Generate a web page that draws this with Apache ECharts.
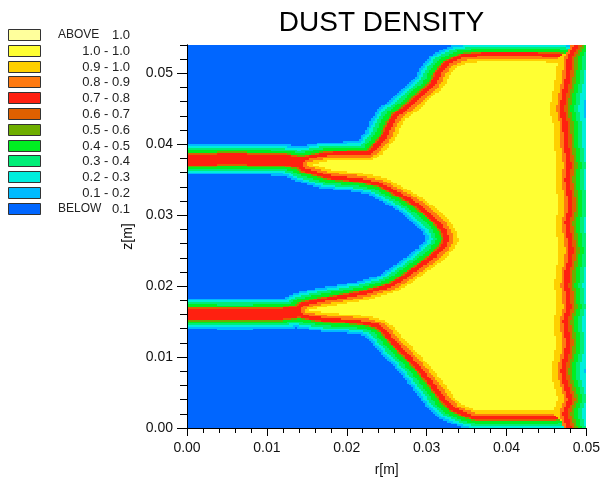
<!DOCTYPE html>
<html><head><meta charset="utf-8">
<script src="https://cdn.jsdelivr.net/npm/echarts@6/dist/echarts.min.js"></script>
<style>html,body{margin:0;padding:0;background:#fff}#c{width:603px;height:482px}</style>
</head><body><div id="c"></div>
<script>
// ---------------- data ----------------
const titleText = 'DUST DENSITY';
const xAxisName = 'r[m]';
const yAxisName = 'z[m]';
const xTicks = [0, 0.01, 0.02, 0.03, 0.04, 0.05];
const yTicks = [0, 0.01, 0.02, 0.03, 0.04, 0.05];
const rMax = 0.05;
const zMax = 0.054;
const minorStep = 0.002;

const legendWords   = ['ABOVE', '', '', '', '', '', '', '', '', '', '', 'BELOW'];
const legendNumbers = ['1.0', '1.0 - 1.0', '0.9 - 1.0', '0.8 - 0.9', '0.7 - 0.8', '0.6 - 0.7',
                       '0.5 - 0.6', '0.4 - 0.5', '0.3 - 0.4', '0.2 - 0.3', '0.1 - 0.2', '0.1'];
const legendColors  = ['#FFFF9C', '#FFFF33', '#FFD000', '#FF7A10', '#FF2010', '#E06000',
                       '#6EAE00', '#00EE22', '#00EE77', '#00EEDD', '#00BBFF', '#0066FF'];
const bandLower     = [1.0, 1.0, 0.9, 0.8, 0.7, 0.6, 0.5, 0.4, 0.3, 0.2, 0.1, -Infinity];

// outline of the yellow (density = 1.0) region: top edge, upper-left edge,
// the wedge between the two jets, lower-left edge and bottom edge
const yellowOutlineR = [0.04541,0.04329,0.04017,0.03706,0.03494,0.03370,0.03283,0.03233,0.03158,0.03046,
  0.02959,0.02859,0.02735,0.02660,0.02610,0.02523,0.02436,0.02311,0.02025,0.01776,0.01552,
  0.01813,0.02187,0.02486,0.02648,0.02835,0.02996,0.03145,0.03270,0.03357,0.03395,
  0.03332,0.03208,0.03021,0.02810,0.02648,0.02548,0.02399,0.02274,0.02062,0.01689,0.01527,
  0.01776,0.02025,0.02274,0.02461,0.02585,0.02709,0.02871,0.03020,0.03145,0.03244,0.03332,0.03432,0.03581,
  0.03643,0.04141];
const yellowOutlineZ = [0.05160,0.05170,0.05170,0.05170,0.05150,0.05090,0.04976,0.04850,0.04753,0.04655,
  0.04557,0.04459,0.04361,0.04221,0.04081,0.03969,0.03857,0.03773,0.03773,0.03766,0.03717,
  0.03634,0.03592,0.03522,0.03424,0.03312,0.03200,0.03060,0.02934,0.02794,0.02654,
  0.02514,0.02374,0.02220,0.02052,0.01940,0.01898,0.01856,0.01814,0.01772,0.01703,0.01661,
  0.01619,0.01605,0.01577,0.01521,0.01423,0.01255,0.01073,0.00891,0.00723,0.00583,0.00443,0.00332,0.00262,
  0.00240,0.00240];
const yellowTopZ = 0.0516;
const yellowBottomZ = 0.0024;

// centre lines of the two inflow jets
const jetUpperR = [0, 0.006, 0.012, 0.0155];
const jetUpperZ = [0.03783, 0.03790, 0.03780, 0.03720];
const jetLowerR = [0, 0.006, 0.012, 0.0153];
const jetLowerZ = [0.01612, 0.01605, 0.01612, 0.01660];

// red line running along the outer wall (one point per mm of z)
const ridgeZ = [0,0.001,0.002,0.003,0.004,0.005,0.006,0.007,0.008,0.009,0.010,0.011,0.012,0.013,0.014,
  0.015,0.016,0.017,0.018,0.019,0.020,0.021,0.022,0.023,0.024,0.025,0.026,0.027,0.028,0.029,0.030,
  0.031,0.032,0.033,0.034,0.035,0.036,0.037,0.038,0.039,0.040,0.041,0.042,0.043,0.044,0.045,0.046,
  0.047,0.048,0.049,0.050,0.051,0.052,0.053,0.054];
const ridgeR = [0.04788,0.04764,0.04739,0.04764,0.04801,0.04776,0.04751,0.04726,0.04714,0.04726,
  0.04751,0.04764,0.04776,0.04764,0.04751,0.04739,0.04764,0.04788,0.04776,0.04776,0.04751,
  0.04764,0.04764,0.04788,0.04801,0.04813,0.04801,0.04788,0.04776,0.04764,0.04788,0.04801,
  0.04801,0.04788,0.04776,0.04764,0.04776,0.04788,0.04776,0.04764,0.04751,0.04751,0.04739,
  0.04739,0.04714,0.04701,0.04714,0.04726,0.04751,0.04764,0.04776,0.04788,0.04788,0.04826,0.04888];

// density bands against distance (m) from each feature
const blobBandDist  = [0.00055,0.0011,0.0018,0.00195,0.0021,0.0027,0.0032,0.0036,0.0040];
const blobBandValue = [0.95,0.85,0.75,0.65,0.55,0.45,0.35,0.25,0.15];
const blobZStretch  = 1.5;
const jetBandDist   = [0.00075,0.00088,0.001,0.0013,0.0016,0.0019,0.0022];
const jetBandValue  = [0.75,0.65,0.55,0.45,0.35,0.25,0.15];
const ridgeOutDist  = [0.0003,0.00068,0.00105,0.00155,0.00205,0.0027,0.0033];
const ridgeOutValue = [0.75,0.65,0.55,0.45,0.35,0.25,0.15];
const ridgeInDist   = [0.0003,0.0007,0.0015];
const ridgeInValue  = [0.75,0.85,0.95];
const insideValue = 1.0;
const backgroundValue = 0.05;
const cellStep = 0.00025;

// ---------------- field construction ----------------
function ridgeAt(z) {
  if (z <= ridgeZ[0]) return ridgeR[0];
  for (let i = 1; i < ridgeZ.length; i++) {
    if (z <= ridgeZ[i]) {
      const t = (z - ridgeZ[i-1]) / (ridgeZ[i] - ridgeZ[i-1]);
      return ridgeR[i-1] + t * (ridgeR[i] - ridgeR[i-1]);
    }
  }
  return ridgeR[ridgeR.length - 1];
}
const innerWidth = ridgeInDist[ridgeInDist.length - 1];
const polyR = yellowOutlineR.slice(), polyZ = yellowOutlineZ.slice();
polyR.push(ridgeAt(yellowBottomZ) - innerWidth); polyZ.push(yellowBottomZ);
for (let i = 0; i < ridgeZ.length; i++) {
  if (ridgeZ[i] > yellowBottomZ && ridgeZ[i] < yellowTopZ) { polyR.push(ridgeR[i] - innerWidth); polyZ.push(ridgeZ[i]); }
}
polyR.push(ridgeAt(yellowTopZ) - innerWidth); polyZ.push(yellowTopZ);

function segDist(px, pz, ax, az, bx, bz) {
  const dx = bx - ax, dz = bz - az, L = dx*dx + dz*dz;
  let t = L > 0 ? ((px-ax)*dx + (pz-az)*dz) / L : 0;
  t = Math.max(0, Math.min(1, t));
  const ex = ax + t*dx - px, ez = az + t*dz - pz;
  return Math.sqrt(ex*ex + ez*ez);
}
function inPoly(px, pz) {
  let inside = false;
  for (let i = 0, j = polyR.length - 1; i < polyR.length; j = i++) {
    if ((polyZ[i] > pz) !== (polyZ[j] > pz) &&
        px < (polyR[j]-polyR[i]) * (pz-polyZ[i]) / (polyZ[j]-polyZ[i]) + polyR[i]) inside = !inside;
  }
  return inside;
}
function polyDist(px, pz) {
  const k = blobZStretch;
  let d = Infinity;
  for (let i = 0, j = polyR.length - 1; i < polyR.length; j = i++)
    d = Math.min(d, segDist(px, pz * k, polyR[j], polyZ[j] * k, polyR[i], polyZ[i] * k));
  return d;
}
function lineDist(px, pz, rs, zs) {
  let d = Infinity;
  for (let i = 1; i < rs.length; i++) d = Math.min(d, segDist(px, pz, rs[i-1], zs[i-1], rs[i], zs[i]));
  return d;
}
function band(d, dists, values) {
  for (let i = 0; i < dists.length; i++) if (d <= dists[i]) return values[i];
  return backgroundValue;
}
function bandIndex(v) {
  if (v > bandLower[0]) return 0;
  for (let i = 1; i < bandLower.length; i++) if (v >= bandLower[i]) return i;
  return bandLower.length - 1;
}
function density(r, z) {
  let v = backgroundValue;
  if (inPoly(r, z)) return insideValue;
  v = Math.max(v, band(polyDist(r, z), blobBandDist, blobBandValue));
  v = Math.max(v, band(lineDist(r, z, jetUpperR, jetUpperZ), jetBandDist, jetBandValue));
  v = Math.max(v, band(lineDist(r, z, jetLowerR, jetLowerZ), jetBandDist, jetBandValue));
  const rr = ridgeAt(z);
  if (r >= rr) v = Math.max(v, band(r - rr, ridgeOutDist, ridgeOutValue));
  else {
    const d = rr - r;
    const dzOut = Math.max(0, z - yellowTopZ, yellowBottomZ - z);
    if (d <= ridgeInDist[0]) v = Math.max(v, ridgeInValue[0]);
    else if (d <= ridgeInDist[1]) v = Math.max(v, ridgeInValue[1]);
    else if (Math.hypot(d, dzOut) <= ridgeInDist[2]) v = Math.max(v, ridgeInValue[2]);
  }
  return v;
}
const nCols = Math.round(rMax / cellStep), nRows = Math.round(zMax / cellStep);
const runs = [];
for (let j = 0; j < nRows; j++) {
  const z0 = j * cellStep, z1 = (j + 1) * cellStep, zc = (j + 0.5) * cellStep;
  let start = 0, cur = null, curV = 0;
  for (let i = 0; i <= nCols; i++) {
    let b = null, v = 0;
    if (i < nCols) { v = density((i + 0.5) * cellStep, zc); b = bandIndex(v); }
    if (b !== cur) {
      if (cur !== null) runs.push([start * cellStep, i * cellStep, z0, z1, curV]);
      start = i; cur = b; curV = v;
    }
  }
}

// ---------------- chart ----------------
const fontFamily = 'Liberation Sans, Arial, sans-serif';
const legendGraphics = [];
legendColors.forEach((c, i) => {
  const y = Math.round(29 + i * 15.8) + 0.5;
  legendGraphics.push({ type: 'rect', shape: { x: 8.5, y: y, width: 32, height: 11 },
    style: { fill: c, stroke: '#333', lineWidth: 1 } });
  if (legendWords[i]) legendGraphics.push({ type: 'text', x: 58, y: y + 5.5,
    style: { text: legendWords[i], font: '12px ' + fontFamily, fill: '#222', textAlign: 'left', textVerticalAlign: 'middle' } });
  legendGraphics.push({ type: 'text', x: 130, y: y + 5.5,
    style: { text: legendNumbers[i], font: '13px ' + fontFamily, fill: '#222', textAlign: 'right', textVerticalAlign: 'middle' } });
});
legendGraphics.push({ type: 'text', x: 381.5, y: 23,
  style: { text: titleText, font: '28px ' + fontFamily, fill: '#000', textAlign: 'center', textVerticalAlign: 'middle' } });

const lbl = { color: '#111', fontSize: 14, fontFamily: fontFamily };
const option = {
  animation: false,
  backgroundColor: '#fff',
  grid: { left: 187, right: 14, top: 45, bottom: 50, show: false },
  graphic: legendGraphics,
  xAxis: [
    { type: 'value', min: 0, max: rMax, interval: 0.01, position: 'bottom', z: 10,
      name: xAxisName, nameLocation: 'middle', nameGap: 35, nameTextStyle: lbl,
      axisLine: { lineStyle: { color: '#000', width: 1 } },
      axisTick: { length: 8, lineStyle: { color: '#000' }, customValues: xTicks },
      axisLabel: Object.assign({ margin: 13, formatter: v => v.toFixed(2), customValues: xTicks }, lbl),
      splitLine: { show: false } },
    { type: 'value', min: 0, max: rMax, interval: minorStep, position: 'bottom', z: 10,
      axisLine: { show: false }, axisTick: { length: 5, lineStyle: { color: '#000' } },
      axisLabel: { show: false }, splitLine: { show: false } },
    { type: 'value', min: 0, max: rMax, position: 'top', z: 10,
      axisLine: { lineStyle: { color: '#000', width: 1 } }, axisTick: { show: false },
      axisLabel: { show: false }, splitLine: { show: false } }
  ],
  yAxis: [
    { type: 'value', min: 0, max: zMax, interval: 0.01, position: 'left', z: 10,
      name: yAxisName, nameLocation: 'middle', nameGap: 38, nameTextStyle: lbl,
      axisLine: { lineStyle: { color: '#000', width: 1 } },
      axisTick: { length: 10, lineStyle: { color: '#000' }, customValues: yTicks },
      axisLabel: Object.assign({ margin: 14, formatter: v => v.toFixed(2), customValues: yTicks }, lbl),
      splitLine: { show: false } },
    { type: 'value', min: 0, max: zMax, interval: minorStep, position: 'left', z: 10,
      axisLine: { show: false }, axisTick: { length: 7, lineStyle: { color: '#000' } },
      axisLabel: { show: false }, splitLine: { show: false } },
    { type: 'value', min: 0, max: zMax, position: 'right', z: 10,
      axisLine: { lineStyle: { color: '#000', width: 1 } }, axisTick: { show: false },
      axisLabel: { show: false }, splitLine: { show: false } }
  ],
  series: [{
    type: 'custom', xAxisIndex: 0, yAxisIndex: 0, clip: true, silent: true,
    data: runs,
    encode: { x: [0, 1], y: [2, 3] },
    renderItem: function (params, api) {
      const p0 = api.coord([api.value(0), api.value(3)]);
      const p1 = api.coord([api.value(1), api.value(2)]);
      const x0 = Math.round(p0[0]), y0 = Math.round(p0[1]);
      const x1 = Math.round(p1[0]), y1 = Math.round(p1[1]);
      return { type: 'rect', shape: { x: x0, y: y0, width: x1 - x0, height: y1 - y0 },
        style: { fill: legendColors[bandIndex(api.value(4))] } };
    }
  }]
};
const chart = echarts.init(document.getElementById('c'), null, { renderer: 'canvas' });
chart.setOption(option);
</script></body></html>
